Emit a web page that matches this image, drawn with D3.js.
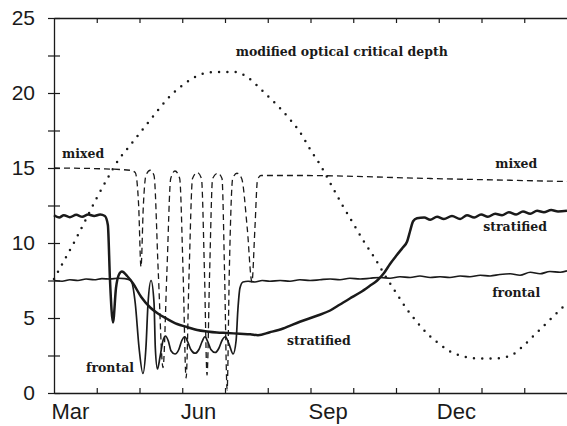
<!DOCTYPE html>
<html>
<head>
<meta charset="utf-8">
<script src="https://cdn.jsdelivr.net/npm/d3@7"></script>
<style>
  body { margin: 0; background: #fff; }
  svg { display: block; }
</style>
</head>
<body>
<svg id="chart"></svg>
<script>
// months counted from 1 March (0) to end of February (12)
const monthLabels = ["Mar", "Jun", "Sep", "Dec"];
const monthLabelPos = [0.37, 3.37, 6.4, 9.4];
const monthTicks = [1, 2, 3, 4, 5, 6, 7, 8, 9, 10, 11];
const depthTicks = [0, 2.5, 5, 7.5, 10, 12.5, 15, 17.5, 20, 22.5, 25];

// modified optical critical depth (dotted)
const criticalDepth = [
  [0, 7.6], [0.25, 8.9], [0.5, 10.2], [0.75, 11.6], [1, 13.0], [1.25, 14.3],
  [1.5, 15.5], [1.75, 16.4], [2, 17.3], [2.25, 18.2], [2.5, 19.1], [2.75, 19.9],
  [3, 20.5], [3.25, 21.0], [3.5, 21.3], [3.75, 21.4], [4, 21.4], [4.25, 21.4],
  [4.5, 21.1], [4.75, 20.5], [5, 19.8], [5.25, 19.1], [5.5, 18.3], [5.75, 17.4],
  [6, 16.2], [6.25, 15.1], [6.5, 13.8], [6.75, 12.5], [7, 11.3], [7.25, 10.1],
  [7.5, 9.0], [7.75, 7.8], [8, 6.7], [8.25, 5.6], [8.5, 4.7], [8.75, 3.9],
  [9, 3.3], [9.25, 2.8], [9.5, 2.5], [9.75, 2.35], [10, 2.3], [10.25, 2.3],
  [10.5, 2.35], [10.75, 2.6], [11, 3.2], [11.25, 3.9], [11.5, 4.6], [11.75, 5.3], [12, 6.0]
];

// mixed (dashed)
const mixed = [
  [0, 15.0], [1.08, 14.95], [1.78, 14.85], [1.9, 14.7], [1.98, 12.5], [2.035, 8.4],
  [2.09, 12.5], [2.15, 14.5], [2.25, 14.85], [2.34, 14.5], [2.44, 8], [2.55, 1.7],
  [2.64, 8], [2.73, 14.3], [2.83, 14.8], [2.94, 14.3], [3.02, 8], [3.09, 1.0],
  [3.16, 8], [3.24, 14.3], [3.35, 14.7], [3.45, 14.3], [3.52, 8], [3.58, 1.2],
  [3.64, 8], [3.71, 14.3], [3.83, 14.65], [3.93, 14.3], [3.99, 8], [4.05, 0.2],
  [4.1, 8], [4.18, 14.3], [4.28, 14.65], [4.39, 14.3], [4.52, 11], [4.63, 7.4],
  [4.7, 11], [4.76, 14.2], [4.84, 14.5], [5.75, 14.5], [8.8, 14.3], [12, 14.1]
];

// stratified (thick solid)
const stratified = [
  [0, 11.85], [0.12, 11.7], [0.23, 11.85], [0.37, 11.72], [0.52, 11.88], [0.66, 11.75],
  [0.8, 11.9], [0.94, 11.8], [1.08, 11.9], [1.19, 11.8], [1.26, 11.2], [1.31, 7.5],
  [1.38, 4.7], [1.45, 7.0], [1.52, 7.9], [1.59, 8.1], [1.71, 7.8], [1.85, 7.3],
  [2.04, 6.4], [2.25, 5.7], [2.43, 5.3], [2.64, 4.95], [2.88, 4.6], [3.11, 4.4],
  [3.35, 4.2], [3.58, 4.1], [3.81, 4.03], [4.05, 4.0], [4.35, 3.95], [4.59, 3.92],
  [4.77, 3.85], [5.05, 4.05], [5.36, 4.3], [5.75, 4.75], [6.15, 5.15], [6.46, 5.5],
  [6.69, 5.9], [6.92, 6.3], [7.16, 6.7], [7.39, 7.15], [7.56, 7.5], [7.72, 8.0],
  [7.86, 8.6], [8.02, 9.2], [8.16, 9.7], [8.26, 10.1], [8.33, 10.8], [8.4, 11.45],
  [8.49, 11.65], [8.66, 11.7], [8.8, 11.55], [8.96, 11.75], [9.12, 11.6], [9.31, 11.8],
  [9.5, 11.6], [9.66, 11.85], [9.83, 11.7], [9.99, 11.9], [10.15, 11.75], [10.32, 11.95],
  [10.48, 11.85], [10.64, 12.05], [10.81, 11.9], [10.97, 12.1], [11.14, 11.95], [11.3, 12.15],
  [11.46, 12.05], [11.63, 12.2], [11.79, 12.1], [12, 12.15]
];

// frontal (thin solid)
const frontal = [
  [0, 7.5], [0.19, 7.45], [0.37, 7.55], [0.56, 7.5], [0.75, 7.6], [0.94, 7.55],
  [1.12, 7.62], [1.31, 7.6], [1.5, 7.65], [1.66, 7.62], [1.8, 7.5], [1.9, 6.0],
  [1.99, 3.0], [2.08, 1.3], [2.15, 3.0], [2.2, 6.0], [2.27, 7.5], [2.34, 6.0],
  [2.37, 3.0], [2.42, 1.6], [2.48, 2.4], [2.55, 3.5], [2.61, 3.8], [2.67, 3.5],
  [2.74, 2.8], [2.83, 2.6], [2.92, 2.9], [2.99, 3.5], [3.06, 3.75], [3.13, 3.4],
  [3.2, 2.9], [3.3, 2.65], [3.39, 2.9], [3.46, 3.4], [3.53, 3.75], [3.6, 3.4],
  [3.67, 2.9], [3.77, 2.7], [3.86, 3.0], [3.93, 3.5], [4.01, 3.75], [4.09, 3.3],
  [4.19, 2.6], [4.26, 3.5], [4.3, 5.5], [4.35, 7.0], [4.42, 7.4], [4.54, 7.45],
  [4.7, 7.4], [4.87, 7.5], [5.05, 7.45], [5.29, 7.5], [5.52, 7.45], [5.75, 7.55],
  [5.99, 7.5], [6.22, 7.55], [6.46, 7.6], [6.69, 7.55], [6.92, 7.65], [7.16, 7.6],
  [7.39, 7.65], [7.63, 7.7], [7.86, 7.65], [8.09, 7.75], [8.33, 7.7], [8.56, 7.8],
  [8.8, 7.7], [9.03, 7.75], [9.26, 7.7], [9.5, 7.8], [9.73, 7.75], [9.97, 7.85],
  [10.2, 7.8], [10.43, 7.9], [10.67, 7.95], [10.9, 7.85], [11.14, 8.05], [11.37, 7.95],
  [11.6, 8.1], [11.84, 8.05], [12, 8.15]
];

// text labels, anchored in data units
const annotations = [
  { text: "modified optical critical depth", m: 4.25, v: 22.45 },
  { text: "mixed", m: 0.19, v: 15.67 },
  { text: "mixed", m: 10.32, v: 15.0 },
  { text: "stratified", m: 10.04, v: 10.8 },
  { text: "frontal", m: 10.25, v: 6.4 },
  { text: "stratified", m: 5.45, v: 3.2 },
  { text: "frontal", m: 0.75, v: 1.4 }
];

const w = 567;
const h = 426;

const xScale = d3.scaleLinear().domain([0, 12]).range([54, 567]);
const yScale = d3.scaleLinear().domain([0, 25]).range([393, 18]);

const svg = d3.select("#chart").attr("width", w).attr("height", h);

const ink = "#1a1a1a";

// axes
const bottomAxis = svg.append("g")
  .attr("transform", "translate(0," + yScale(0) + ")")
  .call(d3.axisBottom(xScale).tickValues(monthTicks).tickSize(-5).tickSizeOuter(0).tickFormat(""));

const topAxis = svg.append("g")
  .attr("transform", "translate(0," + yScale(25) + ")")
  .call(d3.axisTop(xScale).tickValues(monthTicks).tickSize(-5).tickSizeOuter(0).tickFormat(""));

const leftAxis = svg.append("g")
  .attr("transform", "translate(" + xScale(0) + ",0)")
  .call(d3.axisLeft(yScale).tickValues(depthTicks).tickSize(6).tickPadding(13).tickSizeOuter(0)
    .tickFormat((d) => (d % 5 === 0 ? d : "")));
leftAxis.selectAll(".tick line").attr("x1", 6);

const monthAxis = svg.append("g")
  .attr("transform", "translate(0," + yScale(0) + ")")
  .call(d3.axisBottom(xScale).tickValues(monthLabelPos).tickSize(0).tickPadding(10)
    .tickFormat((d, i) => monthLabels[i]));
monthAxis.select(".domain").remove();

[bottomAxis, topAxis, leftAxis].forEach((g) => {
  g.select(".domain").attr("stroke", ink).attr("stroke-width", 1.3);
  g.selectAll(".tick line").attr("stroke", ink).attr("stroke-width", 1.2);
});

leftAxis.selectAll("text")
  .attr("font-family", "'Liberation Sans', Arial, sans-serif")
  .attr("font-size", 21)
  .attr("fill", ink);
monthAxis.selectAll("text")
  .attr("font-family", "'Liberation Sans', Arial, sans-serif")
  .attr("font-size", 22)
  .attr("fill", ink);

// series
const line = d3.line()
  .x((d) => xScale(d[0]))
  .y((d) => yScale(d[1]))
  .curve(d3.curveMonotoneX);

svg.append("path")
  .datum(criticalDepth)
  .attr("d", line)
  .attr("fill", "none")
  .attr("stroke", ink)
  .attr("stroke-width", 2.5)
  .attr("stroke-linecap", "round")
  .attr("stroke-dasharray", "0 8.3");

svg.append("path")
  .datum(mixed)
  .attr("d", line)
  .attr("fill", "none")
  .attr("stroke", ink)
  .attr("stroke-width", 1.3)
  .attr("stroke-dasharray", "6 4");

svg.append("path")
  .datum(frontal)
  .attr("d", line)
  .attr("fill", "none")
  .attr("stroke", ink)
  .attr("stroke-width", 1.7);

svg.append("path")
  .datum(stratified)
  .attr("d", line)
  .attr("fill", "none")
  .attr("stroke", ink)
  .attr("stroke-width", 2.5);

svg.append("g")
  .selectAll("text")
  .data(annotations)
  .enter()
  .append("text")
  .attr("x", (d) => xScale(d.m))
  .attr("y", (d) => yScale(d.v))
  .attr("font-family", "'DejaVu Serif', serif")
  .attr("font-weight", "bold")
  .attr("font-size", 12.5)
  .attr("fill", ink)
  .text((d) => d.text);
</script>
</body>
</html>
